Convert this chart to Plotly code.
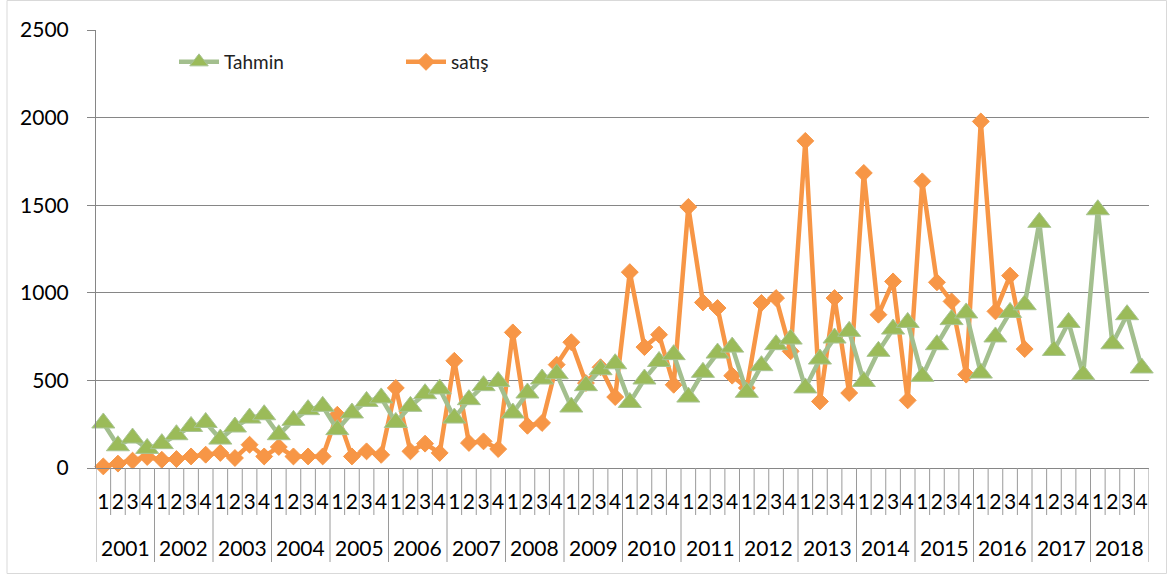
import plotly.graph_objects as go

years = [str(y) for y in range(2001, 2019)]
quarters = ["1", "2", "3", "4"]

tahmin = [
    257, 127, 171, 112,
    139, 190, 237, 260,
    165, 234, 285, 304,
    190, 272, 333, 352,
    219, 314, 380, 400,
    260, 352, 424, 451,
    285, 390, 470, 494,
    314, 428, 508, 538,
    348, 470, 561, 595,
    374, 508, 608, 647,
    405, 546, 656, 690,
    432, 584, 704, 736,
    457, 622, 742, 780,
    494, 666, 793, 831,
    523, 704, 847, 885,
    542, 748, 888, 932,
    1402, 671, 831, 533,
    1474, 709, 875, 571,
]

satis = [
    9, 25, 42, 63,
    47, 51, 66, 76,
    86, 57, 133, 66,
    120, 66, 66, 66,
    304, 66, 95, 75,
    457, 95, 139, 86,
    612, 143, 152, 108,
    774, 241, 257, 590,
    718, 485, 575, 405,
    1118, 690, 761, 475,
    1490, 945, 913, 527,
    457, 942, 970, 666,
    1867, 380, 970, 428,
    1684, 875, 1065, 386,
    1636, 1060, 951, 533,
    1978, 894, 1098, 679,
]

n = len(years) * len(quarters)
xidx = list(range(n))
qlabels = [q for _ in years for q in quarters]

FONT = "Lato, 'Open Sans', 'Liberation Sans', sans-serif"
GRID = "#868686"
DIV = "#9a9a9a"

fig = go.Figure()
fig.add_trace(go.Scatter(
    x=xidx[:len(satis)], y=satis, name="satış", mode="lines+markers",
    line=dict(color="#F79646", width=4.5), cliponaxis=False,
    marker=dict(symbol="diamond", size=13, color="#F79646",
                line=dict(color="#F79646", width=1)),
))
fig.add_trace(go.Scatter(
    x=xidx[:len(tahmin)], y=tahmin, name="Tahmin", mode="lines+markers",
    line=dict(color="#A3BF8E", width=4.5), cliponaxis=False,
    marker=dict(symbol="triangle-up", size=20, color="#9BBB59",
                line=dict(color="#A8C494", width=1)),
))

W, H = 1167, 575
L, R, T, B = 96, 18, 30, 107
ph = H - T - B
pw = W - L - R

def py(pix):
    return (H - B - pix) / ph

def px(pix):
    return (pix - L) / pw

shapes = []
# quarter separators
for i in range(1, n):
    if i % 4 == 0:
        continue
    shapes.append(dict(type="line", xref="x", yref="paper", x0=i - 0.5, x1=i - 0.5,
                       y0=0, y1=py(515), line=dict(color=DIV, width=1)))
# year separators
for k in range(len(years) + 1):
    xv = 4 * k - 0.5
    shapes.append(dict(type="line", xref="x", yref="paper", x0=xv, x1=xv,
                       y0=0, y1=py(562), line=dict(color=DIV, width=1)))
# outer chart border
shapes.append(dict(type="rect", xref="paper", yref="paper",
                   x0=px(7), x1=px(1166.5), y0=py(573.5), y1=py(0.5),
                   line=dict(color="#D9D9D9", width=1), fillcolor="rgba(0,0,0,0)"))

annotations = []
for k, yr in enumerate(years):
    annotations.append(dict(x=4 * k + 1.5, y=py(547), xref="x", yref="paper",
                            text=yr, showarrow=False, yanchor="middle", xanchor="center",
                            font=dict(family=FONT, size=21, color="black")))

fig.update_layout(
    width=W, height=H,
    margin=dict(l=L, r=R, t=T, b=B, pad=0),
    paper_bgcolor="white", plot_bgcolor="white",
    font=dict(family=FONT, size=21, color="black"),
    shapes=shapes, annotations=annotations,
    showlegend=True,
    legend=dict(orientation="h", x=px(174), y=py(62), xanchor="left", yanchor="middle",
                traceorder="reversed", entrywidth=172, entrywidthmode="pixels",
                itemwidth=40,
                font=dict(family=FONT, size=19, color="#222222"),
                bgcolor="rgba(255,255,255,0)"),
    xaxis=dict(range=[-0.5, n - 0.5], tickmode="array", tickvals=xidx, ticktext=qlabels,
               showgrid=False, zeroline=False, showline=True, linecolor=GRID, linewidth=1,
               ticks="", ticklabelstandoff=15, tickangle=0,
               tickfont=dict(family=FONT, size=21, color="black")),
    yaxis=dict(range=[0, 2500], dtick=500, showgrid=True, gridcolor=GRID, gridwidth=1,
               zeroline=False, showline=True, linecolor=GRID, linewidth=1,
               ticks="outside", ticklen=8, tickcolor=GRID, ticklabelstandoff=14,
               tickfont=dict(family=FONT, size=21, color="black")),
)

fig.write_html("out.html", config={"displayModeBar": False},
               post_script="document.body.style.margin='0';document.body.style.overflow='hidden';")
